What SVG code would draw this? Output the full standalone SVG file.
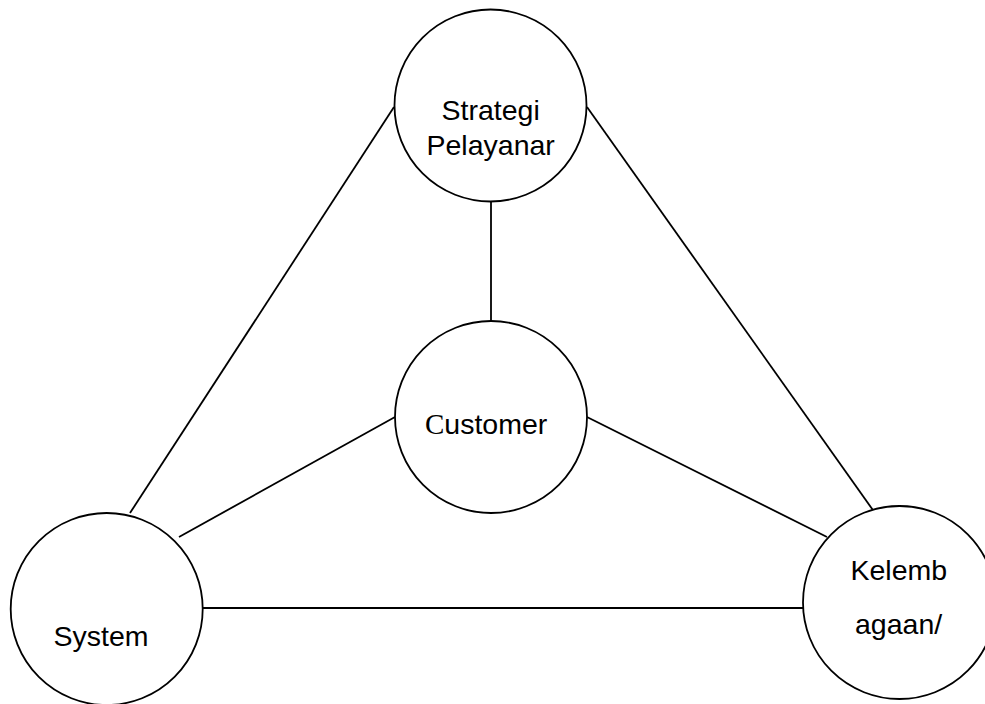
<svg xmlns="http://www.w3.org/2000/svg" width="985" height="704" viewBox="0 0 985 704">
<style>
.n{fill:#fff;stroke:#000;stroke-width:1.8}
.c line{stroke:#000;stroke-width:1.8}
text{font-family:"Liberation Sans",Arial,sans-serif;font-size:28.5px;fill:#000}
.serif{font-family:"Liberation Serif","Times New Roman",serif;font-size:29px}
</style>
<rect width="985" height="704" fill="#fff"/>
<g class="c" id="connectors">
<line x1="394" y1="107" x2="130" y2="513"/>
<line x1="587" y1="107" x2="875" y2="513"/>
<line x1="491" y1="202" x2="491" y2="321"/>
<line x1="395" y1="417" x2="179" y2="537"/>
<line x1="587" y1="417" x2="827" y2="537"/>
<line x1="203" y1="608" x2="803" y2="608"/>
</g>
<g id="strategi">
<circle class="n" cx="490.5" cy="105.5" r="96"/>
<text x="441.5" y="120">Strategi</text>
<text x="426.5" y="154.5">Pelayanar</text>
</g>
<g id="customer">
<circle class="n" cx="491" cy="417" r="96"/>
<text x="425" y="434"><tspan class="serif">C</tspan>ustomer</text>
</g>
<g id="system">
<circle class="n" cx="106.7" cy="609" r="96"/>
<text x="53.5" y="645.5">System</text>
</g>
<g id="kelembagaan">
<circle class="n" cx="899.5" cy="602.5" r="96.5"/>
<text x="850.5" y="580">Kelemb</text>
<text x="855" y="634">agaan/</text>
</g>
</svg>
